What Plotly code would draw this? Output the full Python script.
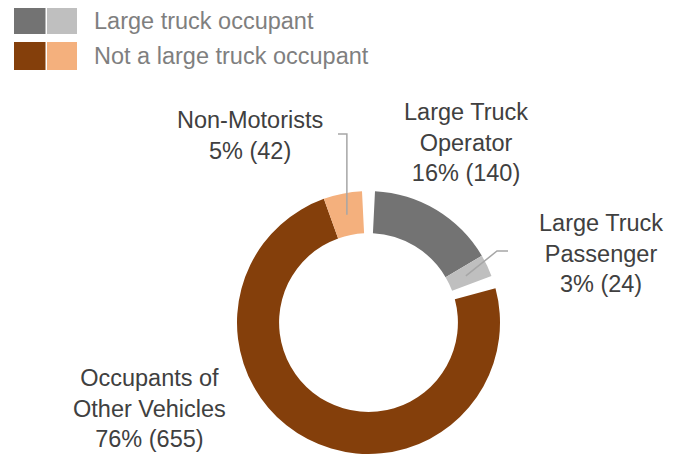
import math
import plotly.graph_objects as go

# ---------------- data ----------------
categories = ["Large Truck Operator", "Large Truck Passenger",
              "Occupants of Other Vehicles", "Non-Motorists"]
label_text = ["Large Truck<br>Operator", "Large Truck<br>Passenger",
              "Occupants of<br>Other Vehicles", "Non-Motorists"]
counts = [140, 24, 655, 42]
legend_labels = ["Large truck occupant", "Not a large truck occupant"]
gap_value = 14  # invisible spacer between the two groups

# ---------------- styles ----------------
slice_colors = ["#737373", "#BFBFBF", "#843F0B", "#F4B07D"]
legend_colors = [["#737373", "#BFBFBF"], ["#843F0B", "#F4B07D"]]
W, H = 676, 454
OFF = 8  # page body margin
CX, CY, R = 368.5, 322.5, 131.5
HOLE = 0.68
FONT = "Liberation Sans, Arial, sans-serif"
LABEL_COLOR = "#404040"
LEGEND_TEXT = "#7F7F7F"
LEADER = "#A6A6A6"

total = sum(counts)
pcts = [round(100 * c / total) for c in counts]

values = [gap_value / 2, counts[0], counts[1], gap_value, counts[2], counts[3], gap_value / 2]
labels = ["gap1", categories[0], categories[1], "gap2", categories[2], categories[3], "gap3"]
clear = "rgba(0,0,0,0)"
colors = [clear, slice_colors[0], slice_colors[1], clear, slice_colors[2], slice_colors[3], clear]


def px(x):
    return (x - OFF) / W


def py(y):
    return 1 - (y - OFF) / H


fig = go.Figure()
fig.add_trace(go.Pie(
    values=values, labels=labels, sort=False, direction="clockwise", rotation=0,
    hole=HOLE, marker=dict(colors=colors, line=dict(width=0)),
    textinfo="none", hoverinfo="skip", showlegend=False,
    domain=dict(x=[px(CX - R), px(CX + R)], y=[py(CY + R), py(CY - R)]),
))


def mid_point(slice_idx, radius):
    vtot = sum(values)
    before = sum(values[:slice_idx])
    ang = (before + values[slice_idx] / 2) / vtot * 2 * math.pi
    return CX + radius * math.sin(ang), CY - radius * math.cos(ang)


ann = []
label_pos = {0: (466, 142), 1: (601, 253), 2: (149, 408), 3: (250, 136)}
for i in range(4):
    x, y = label_pos[i]
    ann.append(dict(x=px(x), y=py(y), xref="paper", yref="paper", showarrow=False,
                    xanchor="center", yanchor="middle", align="center",
                    text=f"{label_text[i]}<br>{pcts[i]}% ({counts[i]})",
                    font=dict(family=FONT, size=23.5, color=LABEL_COLOR)))

shapes = []
nx, ny = mid_point(5, 110)
shapes.append(dict(type="path", xref="paper", yref="paper",
                   path=f"M {px(nx)} {py(ny)} L {px(nx)} {py(134)} L {px(338)} {py(134)}",
                   line=dict(color=LEADER, width=1.5)))
qx, qy = mid_point(2, 108)
shapes.append(dict(type="path", xref="paper", yref="paper",
                   path=f"M {px(qx)} {py(qy)} L {px(497)} {py(251)} L {px(508)} {py(251)}",
                   line=dict(color=LEADER, width=1.5)))

rows_y = [(7, 34), (42, 70)]
for r, (y0, y1) in enumerate(rows_y):
    for c, (x0, x1) in enumerate([(14, 45.5), (47, 77)]):
        shapes.append(dict(type="rect", xref="paper", yref="paper",
                           x0=px(x0), x1=px(x1), y0=py(y1), y1=py(y0),
                           fillcolor=legend_colors[r][c], line=dict(width=0)))
    ann.append(dict(x=px(92), y=py((y0 + y1) / 2), xref="paper", yref="paper",
                    showarrow=False, xanchor="left", yanchor="middle",
                    text=legend_labels[r],
                    font=dict(family=FONT, size=23.5, color=LEGEND_TEXT)))

fig.update_layout(width=W, height=H, margin=dict(l=0, r=0, t=0, b=0),
                  paper_bgcolor="white", plot_bgcolor="white",
                  annotations=ann, shapes=shapes)
fig.write_html("out.html")
